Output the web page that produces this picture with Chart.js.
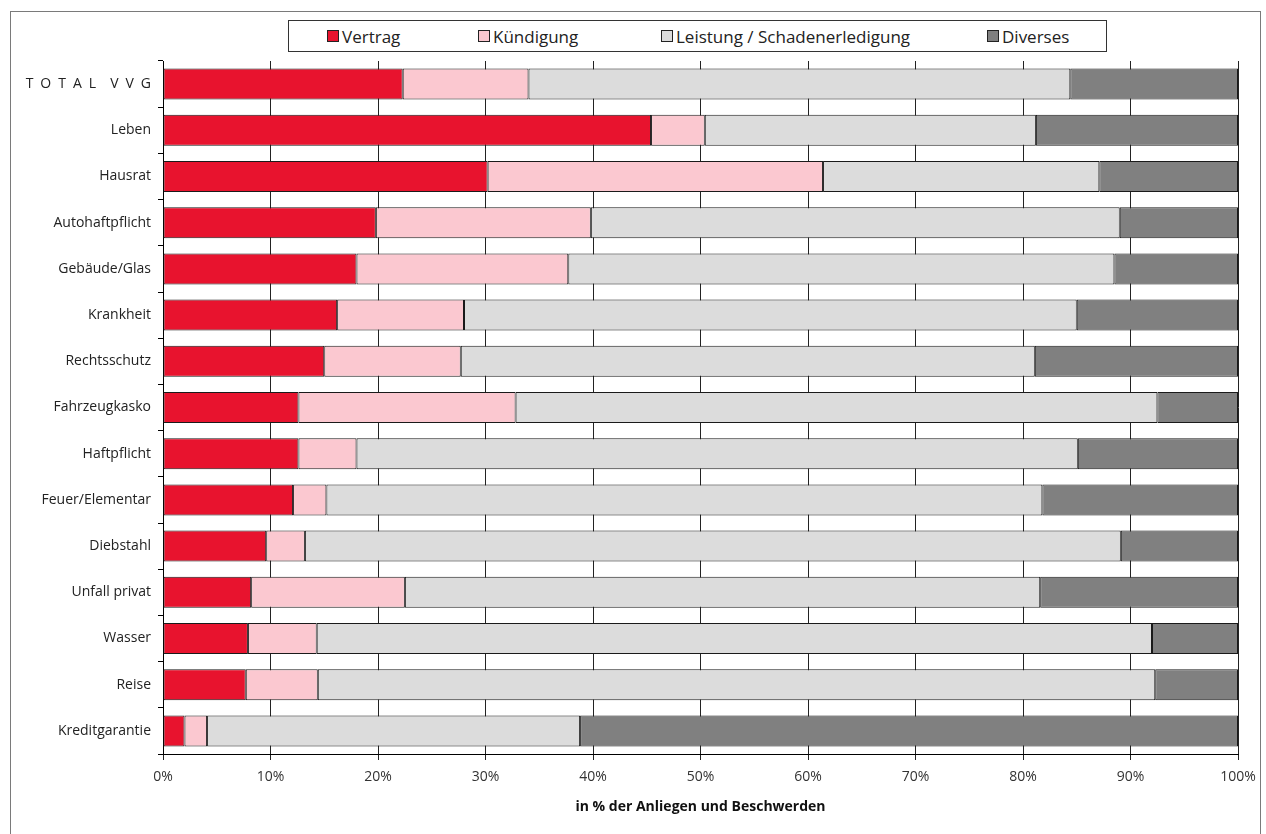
<!DOCTYPE html>
<html lang="de">
<head>
<meta charset="utf-8">
<title>Anliegen und Beschwerden nach Versicherungszweig</title>
<script src="https://cdn.jsdelivr.net/npm/chart.js@4.4.1/dist/chart.umd.min.js"></script>
<style>
  html, body { margin: 0; padding: 0; background: #fff; overflow: hidden; }
  #wrap { width: 1266px; height: 834px; position: relative; }
  #chart { position: absolute; left: 0; top: 0; }
  /* outer frame, open at the bottom edge */
  #frame {
    position: absolute; left: 10px; top: 11px; width: 1251px; height: 840px;
    border: 1.5px solid #7a7a7a; box-sizing: border-box;
  }
  #legend {
    position: absolute; left: 288px; top: 20px; width: 819px; height: 32px;
    border: 1px solid #333; box-sizing: border-box; background: #fff;
    font-family: "Open Sans", "Noto Sans", sans-serif; font-size: 17px; color: #222;
  }
  #legend .item { position: absolute; top: 0; height: 30px; display: flex; align-items: center; white-space: nowrap; }
  #legend .box { width: 12px; height: 12px; border: 1px solid #222; box-sizing: border-box; margin-right: 3px; }
</style>
</head>
<body>
<div id="wrap">
  <div id="frame"></div>
  <canvas id="chart" width="1266" height="834"></canvas>
  <div id="legend"></div>
</div>
<script>
// Versicherungszweige (oben nach unten)
const branches = [
    'T\u2002O\u2002T\u2002A\u2002L\u2002\u2002V\u2002V\u2002G',
    'Leben', 'Hausrat', 'Autohaftpflicht', 'Gebäude/Glas', 'Krankheit',
    'Rechtsschutz', 'Fahrzeugkasko', 'Haftpflicht', 'Feuer/Elementar',
    'Diebstahl', 'Unfall privat', 'Wasser', 'Reise', 'Kreditgarantie'
];

// Anteile in % der Anliegen und Beschwerden
const vertrag    = [22.3, 45.4, 30.2, 19.8, 18.0, 16.2, 15.0, 12.6, 12.6, 12.1,  9.6,  8.2,  7.9,  7.7,  2.0];
const kuendigung = [11.7,  5.0, 31.2, 20.0, 19.7, 11.8, 12.7, 20.2,  5.4,  3.1,  3.6, 14.3,  6.4,  6.7,  2.1];
const leistung   = [50.4, 30.8, 25.7, 49.2, 50.8, 57.0, 53.4, 59.7, 67.1, 66.6, 75.9, 59.1, 77.7, 77.9, 34.7];
const diverses   = [15.6, 18.8, 12.9, 11.0, 11.5, 15.0, 18.9,  7.5, 14.9, 18.2, 10.9, 18.4,  8.0,  7.7, 61.2];

// x-Achse: 0 % bis 100 % in 10er-Schritten
const xMin = 0;
const xMax = 100;
const xStep = 10;

const seriesNames  = ['Vertrag', 'Kündigung', 'Leistung / Schadenerledigung', 'Diverses'];
const seriesColors = ['#e8132e', '#fbc8d0', '#dcdcdc', '#808080'];

const FONT = '"Open Sans", "Noto Sans", sans-serif';

const values = [vertrag, kuendigung, leistung, diverses];

// ### LEGENDE ###
// left offsets of the legend entries inside the box
const legendLeft = [38, 189, 372, 698];
const legendEl = document.getElementById('legend');
seriesNames.forEach((name, i) => {
    const item = document.createElement('div');
    item.className = 'item';
    item.style.left = legendLeft[i] + 'px';
    item.innerHTML = `<span class="box" style="background:${seriesColors[i]}"></span><span>${name}</span>`;
    legendEl.appendChild(item);
});

// ### CHART ###
new Chart(document.getElementById('chart'), {
    type: 'bar',
    data: {
        labels: branches,
        datasets: seriesNames.map((name, i) => ({
            label: name,
            data: values[i],
            backgroundColor: seriesColors[i],
            borderColor: '#1a1a1a',
            borderWidth: 1,
            borderSkipped: false,
            inflateAmount: 0,
            barPercentage: 0.67,
            categoryPercentage: 1.0
        }))
    },
    options: {
        indexAxis: 'y',
        responsive: false,
        animation: false,
        layout: { padding: { top: 61, right: 28, left: 0, bottom: 0 } },
        plugins: {
            legend: { display: false },
            tooltip: {
                callbacks: { label: c => `${c.dataset.label}: ${c.parsed.x.toFixed(1)}%` }
            }
        },
        scales: {
            x: {
                type: 'linear',
                stacked: true,
                min: xMin,
                max: xMax,
                afterFit: s => { s.height = 80; },
                grid: { color: '#222', lineWidth: 1, tickLength: 6 },
                border: { color: '#000', width: 1 },
                ticks: {
                    stepSize: xStep,
                    padding: 9,
                    color: '#333',
                    font: { family: FONT, size: 14 },
                    callback: v => v + '%'
                },
                title: {
                    display: true,
                    text: 'in % der Anliegen und Beschwerden',
                    color: '#111',
                    font: { family: FONT, size: 14, weight: 'bold' },
                    padding: { top: 0, bottom: 19 }
                }
            },
            y: {
                stacked: true,
                afterFit: s => { s.width = 163; },
                grid: {
                    offset: true,
                    drawOnChartArea: false,
                    color: '#000',
                    tickLength: 5
                },
                border: { color: '#000', width: 1 },
                ticks: {
                    padding: 7,
                    color: '#222',
                    font: { family: FONT, size: 14 }
                }
            }
        }
    }
});
</script>
</body>
</html>
